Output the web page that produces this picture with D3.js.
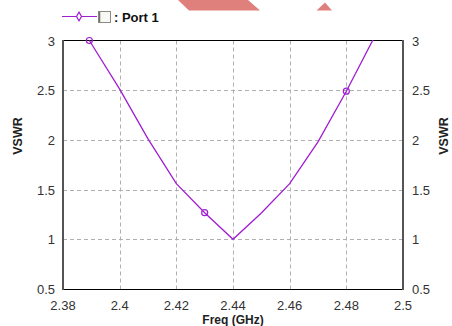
<!DOCTYPE html>
<html>
<head>
<style>
  html, body { margin: 0; padding: 0; background: #fff; }
  svg { display: block; font-family: "Liberation Sans", Arial, sans-serif; }
</style>
</head>
<body>
<svg width="452" height="326"></svg>
<script src="https://cdnjs.cloudflare.com/ajax/libs/d3/7.8.5/d3.min.js"></script>
<script>
// data
const freq = [2.3893, 2.40, 2.41, 2.42, 2.43, 2.44, 2.45, 2.46, 2.47, 2.48, 2.49];
const vswr = [3.0, 2.51, 2.01, 1.56, 1.268, 1.0, 1.265, 1.56, 1.98, 2.49, 3.04];
const markerFreqs = [2.3893, 2.43, 2.48];
const xTicks = [2.38, 2.4, 2.42, 2.44, 2.46, 2.48, 2.5];
const yTicks = [0.5, 1, 1.5, 2, 2.5, 3];
const seriesName = ": Port 1";

const margin = {top: 40.5, right: 49, bottom: 37, left: 63};
const width = 452, height = 326;
const svg = d3.select("svg");

const x = d3.scaleLinear().domain([2.38, 2.5]).range([margin.left, width - margin.right]);
const y = d3.scaleLinear().domain([0.5, 3]).range([height - margin.bottom, margin.top]);

const purple = "#a01ed2";

// decorative shapes at the top
svg.append("path").attr("d", "M178,0 L248,0 L260,10.5 L189,10.5 Z").attr("fill", "#df807c");
svg.append("path").attr("d", "M316.5,10.5 L325,2.5 L332,10.5 Z").attr("fill", "#df807c");

// gridlines
const grid = svg.append("g").attr("stroke", "#b0b0b0").attr("stroke-dasharray", "4,3");
grid.selectAll(".vx").data(xTicks.slice(1, -1)).join("line")
  .attr("x1", d => Math.round(x(d)) + 0.5).attr("x2", d => Math.round(x(d)) + 0.5)
  .attr("y1", y(3)).attr("y2", y(0.5));
grid.selectAll(".hy").data(yTicks.slice(1, -1)).join("line")
  .attr("y1", d => Math.round(y(d)) + 0.5).attr("y2", d => Math.round(y(d)) + 0.5)
  .attr("x1", x(2.38)).attr("x2", x(2.5));

// frame
svg.append("line").attr("x1", x(2.38)).attr("x2", x(2.5)).attr("y1", 40.5).attr("y2", 40.5).attr("stroke", "#000");
svg.append("line").attr("x1", x(2.38)).attr("x2", x(2.5)).attr("y1", 289.5).attr("y2", 289.5).attr("stroke", "#000");
svg.append("line").attr("x1", x(2.38)).attr("x2", x(2.38)).attr("y1", 40).attr("y2", 290).attr("stroke", "#555").attr("stroke-width", 2);
svg.append("line").attr("x1", x(2.5)).attr("x2", x(2.5)).attr("y1", 40).attr("y2", 290).attr("stroke", "#555").attr("stroke-width", 2);

// clip
svg.append("clipPath").attr("id", "clip").append("rect")
  .attr("x", x(2.38)).attr("y", y(3) - 0.5).attr("width", x(2.5) - x(2.38)).attr("height", y(0.5) - y(3) + 1);

const data = freq.map((f, i) => ({f, v: vswr[i]}));
const line = d3.line().x(d => x(d.f)).y(d => y(d.v));
svg.append("path").datum(data).attr("d", line)
  .attr("clip-path", "url(#clip)")
  .attr("fill", "none").attr("stroke", purple).attr("stroke-width", 1.3);

svg.selectAll(".mk").data(data.filter(d => markerFreqs.includes(d.f))).join("circle")
  .attr("cx", d => x(d.f)).attr("cy", d => y(d.v)).attr("r", 3)
  .attr("fill", "none").attr("stroke", purple).attr("stroke-width", 1.2);

// tick labels
const tickFont = 13;
svg.append("g").selectAll("text").data(xTicks).join("text")
  .attr("x", d => x(d)).attr("y", 310).attr("text-anchor", "middle")
  .attr("font-size", tickFont).attr("fill", "#333").text(d => d);
svg.append("g").selectAll("text").data(yTicks).join("text")
  .attr("x", 55).attr("y", d => y(d) + 5).attr("text-anchor", "end")
  .attr("font-size", tickFont).attr("fill", "#333").text(d => d);
svg.append("g").selectAll("text").data(yTicks).join("text")
  .attr("x", 412).attr("y", d => y(d) + 5).attr("text-anchor", "start")
  .attr("font-size", tickFont).attr("fill", "#333").text(d => d);

// axis titles
svg.append("text").attr("x", 233).attr("y", 324).attr("text-anchor", "middle")
  .attr("font-size", 12).attr("font-weight", "bold").attr("fill", "#222").text("Freq (GHz)");
svg.append("text").attr("transform", "translate(22,136) rotate(-90)").attr("text-anchor", "middle")
  .attr("font-size", 12.5).attr("font-weight", "bold").attr("fill", "#222").text("VSWR");
svg.append("text").attr("transform", "translate(448,136) rotate(-90)").attr("text-anchor", "middle")
  .attr("font-size", 12.5).attr("font-weight", "bold").attr("fill", "#222").text("VSWR");

// legend
const lg = svg.append("g");
lg.append("line").attr("x1", 62).attr("x2", 97).attr("y1", 16.5).attr("y2", 16.5).attr("stroke", purple).attr("stroke-width", 1.2);
lg.append("path").attr("d", d3.symbol(d3.symbolDiamond, 22)).attr("transform", "translate(79,16.5)")
  .attr("fill", "#fff").attr("stroke", purple).attr("stroke-width", 1.2);
lg.append("rect").attr("x", 98.5).attr("y", 11.5).attr("width", 12).attr("height", 11)
  .attr("fill", "#f8f8f4").attr("stroke", "#8a8a80").attr("stroke-width", 1);
lg.append("line").attr("x1", 99.5).attr("x2", 99.5).attr("y1", 12).attr("y2", 22).attr("stroke", "#707068").attr("stroke-width", 1.5);
lg.append("text").attr("x", 114).attr("y", 21.5).attr("font-size", 13).attr("font-weight", "bold")
  .attr("fill", "#111").text(seriesName);
</script>
</body>
</html>
